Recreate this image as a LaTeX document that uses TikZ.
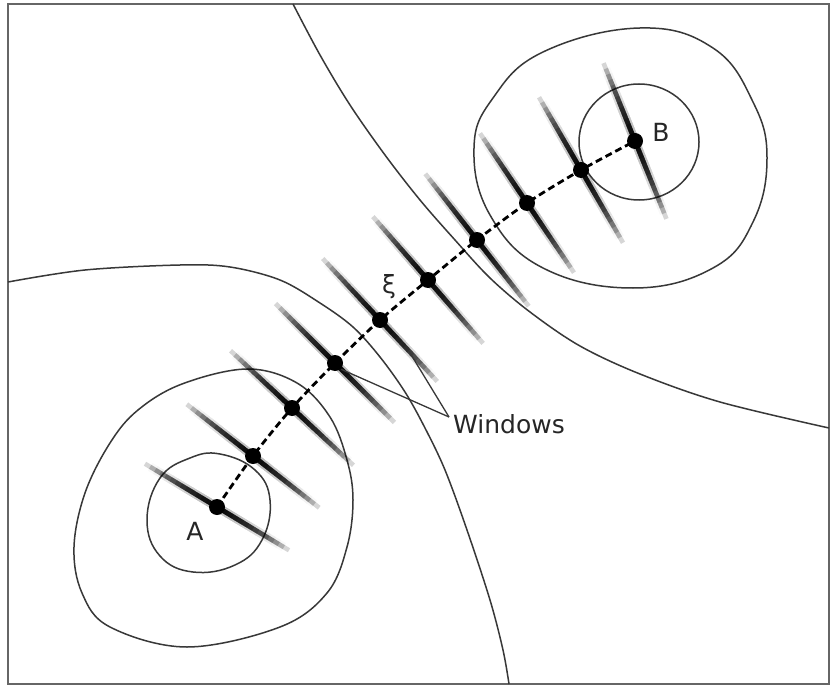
\documentclass[tikz,border=0pt]{standalone}
\usepackage{fontspec}
\setmainfont{DejaVu Sans}
\usetikzlibrary{calc}
\begin{document}
\begin{tikzpicture}[x=1pt,y=-1pt,
  contour/.style={line width=1.5pt, draw=black!78},
  pathline/.style={line width=2.8pt, draw=black, dash pattern=on 7pt off 4pt},
  lbl/.style={font=\fontsize{25}{30}\selectfont, inner sep=0pt, text=black!85},
  leader/.style={line width=1.3pt, draw=black!78}]
\useasboundingbox (0,0) rectangle (832,687);
\fill[white] (0,0) rectangle (832,687);
\draw[line width=2pt, draw=black!60] (8,4) rectangle (829,684);

% separatrices
\draw[contour] plot[smooth, tension=0.55] coordinates {(293,4) (320,55) (350,105) (385,155) (420,200) (455,240) (490,278) (530,312) (580,346) (640,374) (720,402) (829,428)};
\draw[contour] plot[smooth, tension=0.55] coordinates {(8,282) (85,270) (180,265) (230,267) (280,280) (320,303) (353,327) (380,357) (405,392) (425,428) (445,470) (467,530) (490,600) (503,650) (509,684)};

% contours around A
\draw[contour] plot[smooth cycle, tension=0.6] coordinates {(247,369) (297,383) (330,417) (347,460) (353,500) (347,547) (327,593) (280,627) (187,647) (110,627) (82,593) (74,547) (85,493) (110,443) (138,410) (182,384)};
\draw[contour] plot[smooth cycle, tension=0.7] coordinates {(220,454) (255,470) (270,500) (262,540) (235,565) (193,572) (160,556) (147,520) (160,478) (190,458)};

% contours around B
\draw[contour] plot[smooth cycle, tension=0.7] coordinates {(640,28) (713,48) (753,102) (767,158) (753,222) (713,268) (633,288) (543,268) (490,215) (474,148) (493,98) (543,52)};
\draw[contour] (639,142) ellipse [x radius=60pt, y radius=58pt];

% path points
\coordinate (d1) at (217,507);
\coordinate (d2) at (253,456);
\coordinate (d3) at (292,408);
\coordinate (d4) at (335,363);
\coordinate (d5) at (380,320);
\coordinate (d6) at (428,280);
\coordinate (d7) at (477,240);
\coordinate (d8) at (527,203);
\coordinate (d9) at (581,170);
\coordinate (d10) at (635,141);

% windows (blurred segments)
\foreach \n/\a in {1/31,2/38,3/43,4/45,5/47,6/49,7/52,8/56,9/60,10/68}{
  \foreach \k in {1,...,14}{
    \pgfmathsetmacro{\L}{6*\k}
    \draw[line width=4.6pt, draw=black, opacity=0.16] ($(d\n)+(\a:\L)$) -- ($(d\n)+(\a+180:\L)$);
  }
  \foreach \k in {3,...,13}{
    \pgfmathsetmacro{\L}{6*\k}
    \draw[line width=9pt, draw=black, opacity=0.025] ($(d\n)+(\a:\L)$) -- ($(d\n)+(\a+180:\L)$);
  }
}

% dashed path
\draw[pathline] plot[smooth, tension=0.5] coordinates {(d1) (d2) (d3) (d4) (d5) (d6) (d7) (d8) (d9) (d10)};
\foreach \n in {1,...,10}{\fill[black] (d\n) circle (8pt);}

% labels
\node[lbl] (la) at (195,531) {A};
\node[lbl] (lb) at (661,132) {B};
\node[lbl] (lxi) at (389,287) {ξ};
\node[lbl, anchor=west] (lw) at (453,424) {Windows};
\coordinate (wl) at (449,417);
\coordinate (w4) at ($(d4)+(45:9)$);
\coordinate (w5) at ($(d5)+(47:42)$);
\draw[leader] (wl) -- (w4);
\draw[leader] (wl) -- (w5);
\end{tikzpicture}
\end{document}
